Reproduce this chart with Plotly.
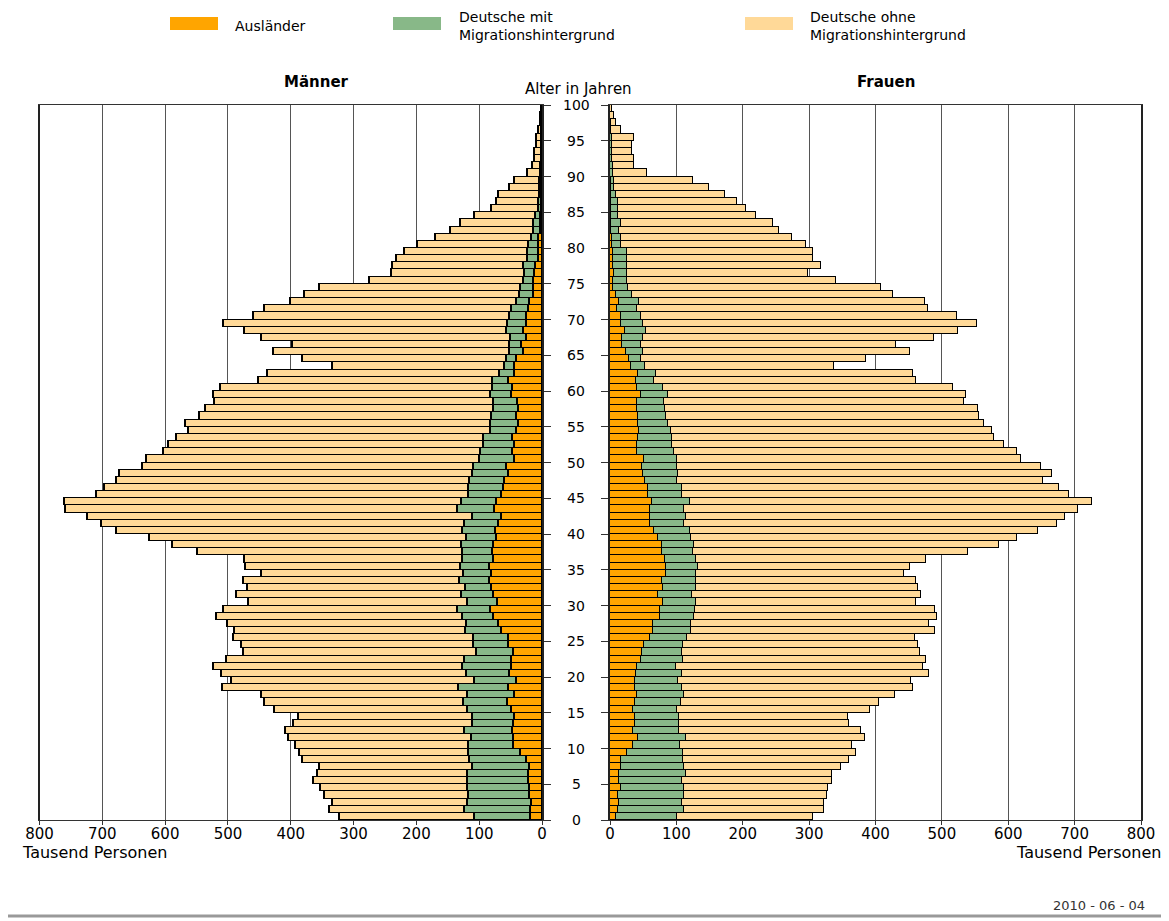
import plotly.graph_objects as go

# ---------------- data (thousand persons) ----------------
ages = list(range(100))
age_ticks = list(range(0, 101, 5))
x_ticks = list(range(0, 801, 100))

series_names = ["Ausländer", "Deutsche mit<br>Migrationshintergrund", "Deutsche ohne<br>Migrationshintergrund"]
series_colors = ["#FFA500", "#88B888", "#FFD998"]

m_aus = [18, 18, 16, 20, 20, 22, 22, 20, 25, 34,
         46, 46, 47, 45, 44, 49, 55, 43, 53, 40,
         51, 49, 49, 46, 53, 54, 65, 69, 78, 82,
         71, 78, 80, 83, 81, 84, 78, 79, 78, 72,
         74, 70, 65, 76, 72, 65, 61, 59, 53, 56,
         43, 47, 43, 47, 41, 38, 41, 38, 39, 49,
         47, 53, 43, 43, 40, 30, 33, 25, 29, 25,
         25, 22, 20, 14, 13, 13, 12, 11, 6, 6,
         6, 5, 3, 3, 2, 1.5, 1, 1, 1, 0.8,
         0.5, 0.5, 0.4, 0.3, 0.3, 0.3, 0.2, 0.1, 0.1, 0.1]
m_mit = [89, 105, 103, 97, 99, 97, 97, 91, 91, 83,
         71, 67, 76, 66, 66, 70, 70, 75, 80, 67,
         70, 77, 74, 59, 56, 55, 57, 52, 49, 53,
         47, 50, 42, 49, 44, 46, 49, 48, 50, 49,
         52, 54, 45, 58, 56, 52, 56, 57, 57, 53,
         56, 51, 50, 46, 41, 44, 39, 39, 38, 33,
         32, 26, 24, 16, 17, 21, 18, 25, 28, 30,
         26, 27, 21, 22, 21, 17, 16, 18, 17, 17,
         16, 11, 11, 10, 9, 4.5, 4, 3.5, 3, 2.7,
         2, 1.5, 1.1, 0.9, 0.7, 0.7, 0.4, 0.3, 0.2, 0.1]
m_ohne = [216, 215, 214, 230, 234, 244, 239, 244, 266, 269,
          276, 290, 285, 285, 277, 307, 317, 328, 375, 388,
          390, 397, 379, 371, 369, 382, 368, 379, 391, 372,
          349, 358, 347, 344, 321, 342, 346, 422, 460, 504,
          551, 577, 613, 625, 632, 592, 579, 561, 563, 527,
          530, 504, 501, 489, 481, 485, 465, 459, 445, 441,
          433, 372, 370, 275, 325, 376, 347, 396, 416, 452,
          409, 393, 359, 342, 320, 245, 212, 209, 209, 196,
          176, 154, 132, 116, 97, 75, 67, 65.5, 48, 40,
          20.5, 13, 10.5, 10.5, 8.5, 8.5, 4.4, 2.6, 1.7, 0.8]

f_aus = [9, 12, 14, 12, 16, 14, 14, 16, 16, 26,
         34, 42, 34, 37, 38, 34, 37, 40, 37, 37,
         39, 40, 47, 48, 51, 61, 65, 65, 75, 75,
         80, 73, 80, 79, 85, 85, 83, 78, 78, 73,
         67, 61, 61, 61, 64, 57, 57, 52, 50, 48,
         51, 41, 41, 42, 44, 42, 42, 41, 41, 46,
         41, 39, 42, 31, 28, 24, 18, 18, 22, 17,
         16, 11, 14, 9, 5, 4, 6, 4, 4, 4,
         3, 3, 2, 2, 1.5, 1.5, 1, 1, 0.8, 0.8,
         0.5, 0.5, 0.4, 0.3, 0.3, 0.3, 0.2, 0.1, 0.1, 0.1]
f_mit = [92, 99, 95, 100, 95, 95, 100, 96, 94, 84,
         72, 73, 70, 67, 66, 67, 70, 72, 72, 66,
         70, 59, 63, 60, 59, 55, 57, 57, 51, 53,
         49, 51, 49, 50, 45, 47, 47, 47, 49, 49,
         53, 50, 53, 51, 56, 52, 52, 49, 53, 53,
         50, 55, 53, 52, 48, 45, 43, 42, 41, 42,
         39, 27, 28, 21, 18, 26, 28, 31, 32, 32,
         30, 30, 30, 24, 22, 22, 20, 22, 21, 21,
         14, 13, 11, 14, 10, 10, 11, 7.5, 5.7, 5.7,
         4.5, 3.5, 2.6, 2.2, 2.2, 2.2, 1.3, 0.9, 0.5, 0.3]
f_ohne = [205, 212, 213, 215, 218, 226, 221, 236, 250, 260,
          259, 269, 274, 256, 254, 290, 298, 317, 347, 351,
          371, 373, 366, 359, 354, 343, 367, 359, 367, 362,
          332, 345, 335, 332, 313, 320, 346, 414, 459, 491,
          525, 563, 572, 593, 606, 583, 567, 552, 563, 548,
          518, 517, 499, 484, 484, 476, 471, 472, 451, 448,
          437, 395, 387, 286, 340, 402, 385, 439, 471, 504,
          477, 438, 430, 393, 382, 315, 272, 292, 281, 281,
          278, 258, 241, 229, 209, 193, 179, 164, 143, 119,
          50, 32.5, 33.5, 31, 31, 33, 14.5, 7.6, 4.8, 2.3]

# ---------------- figure ----------------
W, H = 1169, 921
OFF = 8  # page body margin offset
FONT = "DejaVu Sans"
ycent = [a + 0.5 for a in ages]

def px_x(p):
    return (p - OFF) / W

def px_y(p):
    return 1 - (p - OFF) / H

fig = go.Figure()

for vals, name, col in zip([m_aus, m_mit, m_ohne], series_names, series_colors):
    fig.add_trace(go.Bar(x=vals, y=ycent, orientation="h", width=1, name=name,
                         marker=dict(color=col, line=dict(color="black", width=1.3)),
                         xaxis="x", yaxis="y", showlegend=False))
for vals, name, col in zip([f_aus, f_mit, f_ohne], series_names, series_colors):
    fig.add_trace(go.Bar(x=vals, y=ycent, orientation="h", width=1, name=name,
                         marker=dict(color=col, line=dict(color="black", width=1.3)),
                         xaxis="x2", yaxis="y2", showlegend=False))

ydom = [px_y(820), px_y(105)]
xcommon = dict(tickvals=x_ticks, ticktext=[str(v) for v in x_ticks],
               showgrid=True, gridcolor="#555555", gridwidth=1,
               showline=True, linecolor="#333333", linewidth=1, mirror=True,
               ticks="outside", ticklen=4, tickcolor="#333333",
               ticklabelstandoff=-4,
               tickfont=dict(family=FONT, size=15, color="black"),
               zeroline=False, fixedrange=True, automargin=False)
ycommon = dict(range=[0, 100], tickvals=age_ticks, showticklabels=False,
               ticks="outside", ticklen=7, tickcolor="#333333",
               showline=True, linecolor="#222222", linewidth=1.5, mirror=True,
               showgrid=False, zeroline=False, domain=ydom, fixedrange=True,
               automargin=False)

fig.update_layout(
    width=W, height=H, autosize=False,
    margin=dict(l=0, r=0, t=0, b=0),
    paper_bgcolor="white", plot_bgcolor="white",
    barmode="stack", bargap=0,
    font=dict(family=FONT, size=14, color="black"),
    xaxis=dict(domain=[px_x(39.5), px_x(542)], range=[800, 0], anchor="y", **xcommon),
    xaxis2=dict(domain=[px_x(610), px_x(1141)], range=[0, 800], anchor="y2", **xcommon),
    yaxis=dict(anchor="x", side="right", **ycommon),
    yaxis2=dict(anchor="x2", side="left", **ycommon),
)

ann = []
# age labels between the two panels
for a in age_ticks:
    ann.append(dict(x=px_x(576), xref="paper", y=a, yref="y", text=str(a),
                    showarrow=False, xanchor="center", yanchor="middle",
                    font=dict(family=FONT, size=14)))

ann += [
    dict(x=px_x(316), y=px_y(82), text="Männer", font=dict(family=FONT, size=15, weight="bold")),
    dict(x=px_x(886), y=px_y(82), text="Frauen", font=dict(family=FONT, size=15, weight="bold")),
    dict(x=px_x(578), y=px_y(89), text="Alter in Jahren", font=dict(family=FONT, size=15)),
    dict(x=px_x(20), y=px_y(852), text="Tausend Personen", xanchor="left", font=dict(family=FONT, size=16)),
    dict(x=px_x(1163), y=px_y(852), text="Tausend Personen", xanchor="right", font=dict(family=FONT, size=16)),
    dict(x=px_x(1051), y=px_y(905), text="2010 - 06 - 04", xanchor="left", font=dict(family=FONT, size=13, color="#333333")),
]
for a in ann:
    a.setdefault("xref", "paper")
    a.setdefault("yref", "paper")
    a.setdefault("showarrow", False)
    a.setdefault("xanchor", "center")
    a.setdefault("yanchor", "middle")

# legend (custom swatches + labels)
swatch_x = [170, 393, 745]
text_x = [233, 457, 808]
shapes = []
for sx, tx, name, col in zip(swatch_x, text_x, series_names, series_colors):
    shapes.append(dict(type="rect", xref="paper", yref="paper",
                       x0=px_x(sx), x1=px_x(sx + 48), y0=px_y(30), y1=px_y(17),
                       fillcolor=col, line=dict(width=0)))
    ann.append(dict(x=px_x(tx), y=px_y(26), xref="paper", yref="paper", text=name,
                    showarrow=False, xanchor="left", yanchor="middle", align="left",
                    font=dict(family=FONT, size=14)))

shapes.append(dict(type="line", xref="paper", yref="paper", x0=0, x1=1,
                   y0=px_y(916), y1=px_y(916), line=dict(color="#999999", width=3)))

fig.update_layout(annotations=ann, shapes=shapes)
fig.write_html("out.html")
